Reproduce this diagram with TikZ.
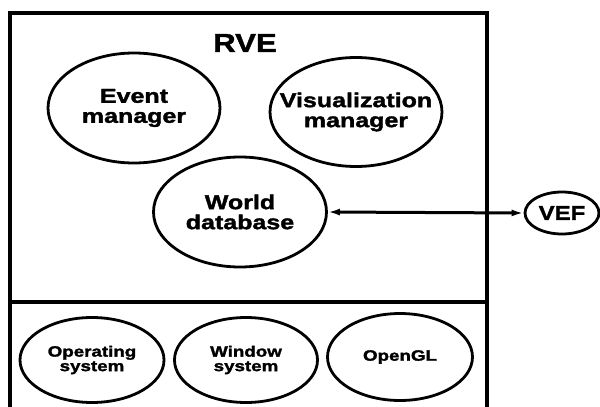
\documentclass[tikz,border=0pt]{standalone}
\usepackage{fontspec}
\setmainfont{Liberation Sans}
% heavy, widened faces for the labels
\newfontfamily\heavy{Liberation Sans Bold}[FakeBold=1.8,FakeStretch=1.25]
\newfontfamily\heavytitle{Liberation Sans Bold}[FakeBold=1.5,FakeStretch=1.2]
\usetikzlibrary{shapes.geometric,arrows.meta}
\begin{document}
\begin{tikzpicture}[x=1pt,y=-1pt,
  frameline/.style={line width=3.2pt},
  blob/.style={ellipse,draw,line width=2.8pt,inner xsep=-30pt,inner ysep=-8pt,align=center,
    font=\heavy\fontsize{20}{20}\selectfont},
  smallblob/.style={blob,font=\heavy\fontsize{15}{14.5}\selectfont},
  link/.style={line width=3pt,{Latex[length=12pt,width=7pt]}-{Latex[length=12pt,width=7pt]}}]
  \useasboundingbox (0,0) rectangle (600,407);
  % frame of the RVE layer and the system layer below it
  \coordinate (bl) at (10,410);
  \coordinate (tl) at (10,13);
  \coordinate (tr) at (487,13);
  \coordinate (br) at (487,410);
  \coordinate (ml) at (10,302);
  \coordinate (mr) at (487,302);
  \draw[frameline,line join=miter] (bl) -- (tl) -- (tr) -- (br);
  \draw[frameline] (ml) -- (mr);
  \node[font=\heavytitle\fontsize{26}{28}\selectfont] (rve) at (245,43) {RVE};
  % upper layer modules
  \node[blob,minimum width=172pt,minimum height=110pt] (event) at (134,108) {Event\\manager};
  \node[blob,minimum width=172pt,minimum height=109pt] (vis) at (356,112) {Visualization\\manager};
  \node[blob,minimum width=173pt,minimum height=110pt] (world) at (240,212) {World\\database};
  \node[blob,font=\heavytitle\fontsize{20}{22}\selectfont,inner xsep=0pt,inner ysep=0pt,
        minimum width=74pt,minimum height=42pt] (vef) at (562,213) {VEF};
  % lower layer modules
  \node[smallblob,minimum width=144pt,minimum height=85pt] (os) at (92,360) {Operating\\system};
  \node[smallblob,minimum width=143pt,minimum height=85pt] (win) at (246,360) {Window\\system};
  \node[smallblob,minimum width=145pt,minimum height=87pt] (gl) at (400,357) {OpenGL};
  \draw[link] (world.east) -- (vef.west);
\end{tikzpicture}
\end{document}
